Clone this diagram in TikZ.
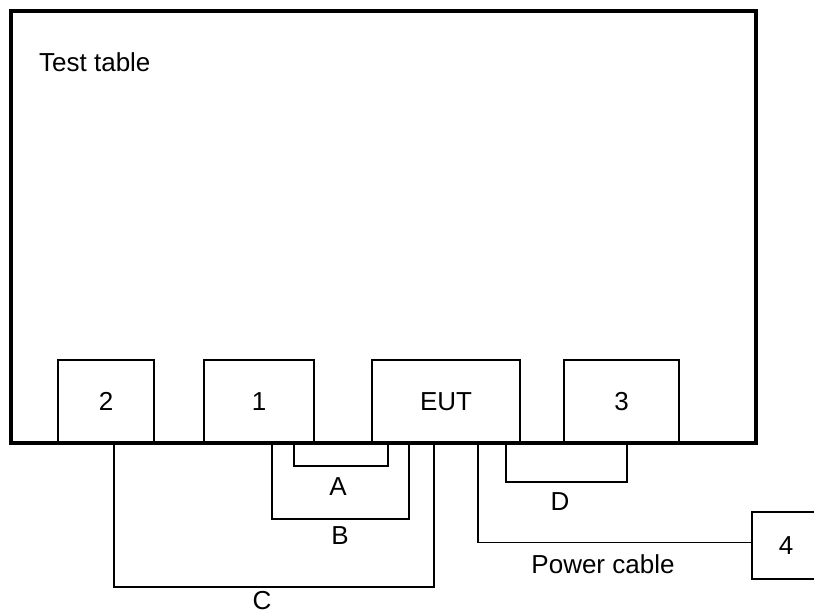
\documentclass[tikz,border=0pt]{standalone}
\usepackage{fontspec}
\setmainfont{Liberation Sans}
\usetikzlibrary{positioning}

\begin{document}
\begin{tikzpicture}[x=1pt,y=1pt,
  unit/.style={draw,line width=1.2pt,minimum height=83pt,inner sep=0pt,outer sep=0pt,
    anchor=south west,font=\fontsize{26}{28}\selectfont},
  cable/.style={line width=1.2pt},
  lbl/.style={font=\fontsize{26}{28}\selectfont,inner sep=0pt}]
  \useasboundingbox (0,0) rectangle (814,615);
  % units on the table
  \node[unit,minimum width=96pt] (u2) at (58,172) {2};
  \node[unit,minimum width=110pt] (u1) at (204,172) {1};
  \node[unit,minimum width=148pt] (eut) at (372,172) {EUT};
  \node[unit,minimum width=115pt] (u3) at (564,172) {3};
  \node[unit,minimum width=68pt,minimum height=67pt] (u4) at (752,36) {4};
  % test table
  \node[draw,line width=3.5pt,minimum width=745pt,minimum height=432pt,inner sep=0pt,
    outer sep=0pt,anchor=south west] (tbl) at (11,172) {};
  \node[lbl,anchor=west] (ttl) at (39,553) {Test table};
  % cables
  \draw[cable] ([xshift=-20pt]u1.south east) -- ++(0,-23) -| ([xshift=16pt]eut.south west);
  \draw[cable] ([xshift=-42pt]u1.south east) -- ++(0,-76) -| ([xshift=37pt]eut.south west);
  \draw[cable] ([xshift=-40pt]u2.south east) -- ++(0,-144) -| ([xshift=62pt]eut.south west);
  \draw[cable] ([xshift=-14pt]eut.south east) -- ++(0,-39) -| ([xshift=63pt]u3.south west);
  \draw[cable] ([xshift=-42pt]eut.south east) |- ([yshift=3pt]u4.west);
  \node[lbl] (la) at (338,128) {A};
  \node[lbl] (lb) at (340,79) {B};
  \node[lbl] (lc) at (262,14) {C};
  \node[lbl] (ld) at (560,113) {D};
  \node[lbl] (lp) at (603,51) {Power cable};
\end{tikzpicture}
\end{document}
